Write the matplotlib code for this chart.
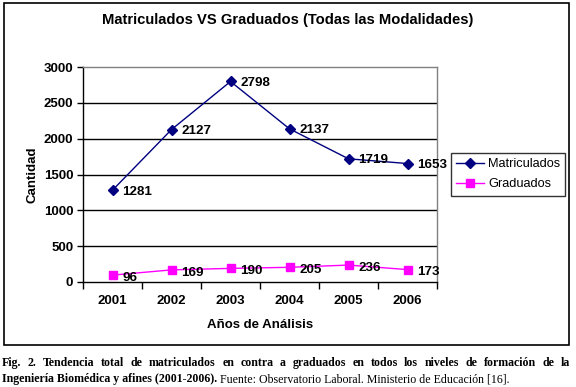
import matplotlib
matplotlib.use("Agg")
import matplotlib.pyplot as plt
from matplotlib.patches import Rectangle

years = ["2001", "2002", "2003", "2004", "2005", "2006"]
matriculados = [1281, 2127, 2798, 2137, 1719, 1653]
graduados = [96, 169, 190, 205, 236, 173]
yticks = [0, 500, 1000, 1500, 2000, 2500, 3000]

W, H = 576, 387
fig = plt.figure(figsize=(W / 100, H / 100), dpi=100)
plt.rcParams['font.family'] = ['Liberation Sans', 'DejaVu Sans']

def fx(px):
    return px / W

def fy(py):
    return 1 - py / H

# outer chart frame
fig.patches.append(Rectangle((fx(4), fy(345)), fx(569) - fx(4), fy(3) - fy(345),
                             transform=fig.transFigure, fill=False, edgecolor='black', lw=1.2))

ax = fig.add_axes([fx(83), fy(282), fx(437) - fx(83), fy(67) - fy(282)])
x = list(range(len(years)))
ax.plot(x, matriculados, color='#000080', marker='D', markersize=5.5, lw=1.0, label='Matriculados')
ax.plot(x, graduados, color='#FF00FF', marker='s', markersize=6, lw=1.0, label='Graduados')

for xi, v in zip(x, matriculados):
    ax.annotate(str(v), (xi, v), xytext=(7, -1), textcoords='offset points',
                ha='left', va='center', fontsize=9.6, fontweight='bold')
for xi, v in zip(x, graduados):
    ax.annotate(str(v), (xi, v), xytext=(7, -2), textcoords='offset points',
                ha='left', va='center', fontsize=9.6, fontweight='bold')

ax.set_xlim(-0.5, len(years) - 0.5)
ax.set_ylim(0, 3000)
ax.set_yticks(yticks)
ax.set_yticklabels([str(t) for t in yticks], fontsize=9.5, fontweight='bold')
ax.set_xticks(x)
ax.set_xticklabels(years, fontsize=9.5, fontweight='bold')
ax.tick_params(axis='x', which='major', length=0, pad=9)
ax.set_xticks([i - 0.5 for i in range(len(years) + 1)], minor=True)
ax.tick_params(axis='x', which='minor', length=5, direction='out', width=1)
ax.tick_params(axis='y', length=4, direction='out', width=1, pad=3)
for t in yticks[1:-1]:
    ax.axhline(t, color='black', lw=1, zorder=0)
ax.spines['top'].set_color('#808080')
ax.spines['right'].set_color('#808080')
ax.spines['left'].set_color('black')
ax.spines['bottom'].set_color('black')
for s in ax.spines.values():
    s.set_linewidth(1)

fig.text(fx(260), fy(325), 'Años de Análisis', ha='center', va='center', fontsize=9.5, fontweight='bold')
fig.text(fx(32), fy(175), 'Cantidad', ha='center', va='center', rotation=90, fontsize=9.5, fontweight='bold')
fig.text(fx(288), fy(20), 'Matriculados VS Graduados (Todas las Modalidades)', ha='center', va='center',
         fontsize=10.6, fontweight='bold')

leg = fig.legend(loc='upper left', bbox_to_anchor=(fx(451), fy(153)), bbox_transform=fig.transFigure,
                 fontsize=9.2, frameon=True, fancybox=False, edgecolor='black', handlelength=2.2,
                 borderpad=0.4, labelspacing=0.65, handletextpad=0.3, borderaxespad=0)
leg.get_frame().set_linewidth(1)

# caption
renderer = fig.canvas.get_renderer()
serif = ['Liberation Serif', 'DejaVu Serif']
cap_fs = 8.6
line1 = "Fig. 2.  Tendencia total de matriculados en contra a graduados en todos los niveles de formación de la".split()
x0, x1 = 2, 570
texts = []
widths = []
for w in line1:
    t = fig.text(0, fy(363), w, ha='left', va='center', fontsize=cap_fs, fontweight='bold', family=serif)
    texts.append(t)
    widths.append(t.get_window_extent(renderer).width)
gap = (x1 - x0 - sum(widths)) / (len(line1) - 1)
cur = x0
for t, w in zip(texts, widths):
    t.set_x(fx(cur))
    cur += w + gap

t2 = fig.text(fx(x0), fy(379), "Ingeniería Biomédica y afines (2001-2006).", ha='left', va='center',
              fontsize=cap_fs, fontweight='bold', family=serif)
w2 = t2.get_window_extent(renderer).width
fig.text(fx(x0 + w2 + 3), fy(379), "Fuente: Observatorio Laboral. Ministerio de Educación [16].",
         ha='left', va='center', fontsize=cap_fs, family=serif)

fig.savefig('out.png', dpi=100)
